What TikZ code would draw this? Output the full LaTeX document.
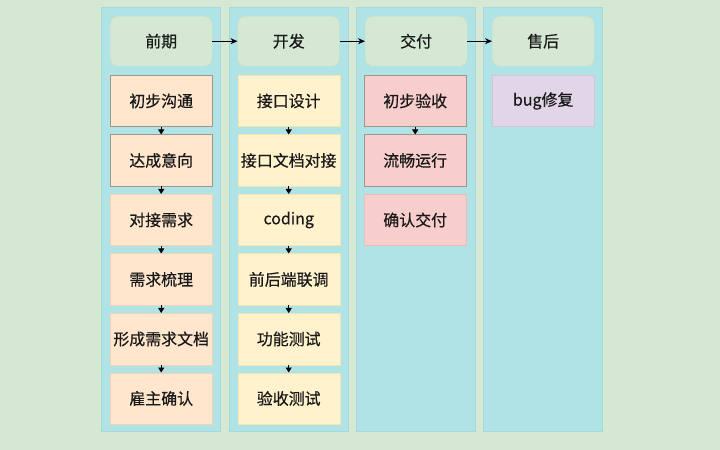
\documentclass[tikz,border=0pt]{standalone}
\usepackage{fontspec}
\setmainfont{Noto Sans CJK SC}[FakeBold=0.5]
\usetikzlibrary{arrows.meta}
\definecolor{bggreen}{HTML}{D5E8D4}
\definecolor{colfill}{HTML}{B0E3E6}
\definecolor{colline}{HTML}{A8D8DB}
\definecolor{hdrfill}{HTML}{D5E8D4}
\definecolor{hdrline}{HTML}{C4DEC3}
\definecolor{orfill}{HTML}{FFE6CC}
\definecolor{orline}{HTML}{F3D3B3}
\definecolor{yefill}{HTML}{FFF2CC}
\definecolor{yeline}{HTML}{F5E3B0}
\definecolor{refill}{HTML}{F8CECC}
\definecolor{reline}{HTML}{EDBDBB}
\definecolor{pufill}{HTML}{E1D5E7}
\definecolor{puline}{HTML}{D3C3DB}
\definecolor{grayline}{HTML}{A0968C}
\begin{document}
\begin{tikzpicture}[x=1bp,y=-1bp,
  every node/.style={font=\fontsize{16}{19}\selectfont, text=black!90},
  lane/.style={draw=colline, fill=colfill, minimum width=119bp, minimum height=424bp, anchor=north west, inner sep=0pt},
  hdr/.style={draw=hdrline, fill=hdrfill, rounded corners=8bp, minimum width=102bp, minimum height=50bp, anchor=north west, inner sep=0pt},
  item/.style={minimum width=102bp, minimum height=51.5bp, anchor=north west, inner sep=0pt},
  oritem/.style={item, fill=orfill, draw=orline},
  yeitem/.style={item, fill=yefill, draw=yeline},
  reitem/.style={item, fill=refill, draw=reline},
  puitem/.style={item, fill=pufill, draw=puline},
  grayb/.style={draw=grayline},
  flow/.style={-{Stealth[length=7bp,width=6bp]}, line width=0.8bp, black},
  step2/.style={-{Triangle[length=5bp,width=6bp]}, line width=0.8bp, black},
]
\fill[bggreen] (0,0) rectangle (720,450);
\useasboundingbox (0,0) rectangle (720,450);

% lanes
\node[lane] (L1) at (101,7) {};
\node[lane] (L2) at (228.5,7) {};
\node[lane] (L3) at (356,7) {};
\node[lane] (L4) at (483,7) {};

% headers
\node[hdr] (H1) at (110,16) {前期};
\node[hdr] (H2) at (237.5,16) {开发};
\node[hdr] (H3) at (365,16) {交付};
\node[hdr] (H4) at (492,16) {售后};

% column 1
\node[oritem, grayb] (A1) at (110,75) {初步沟通};
\node[oritem, grayb] (A2) at (110,134.5) {达成意向};
\node[oritem] (A3) at (110,194) {对接需求};
\node[oritem] (A4) at (110,253.5) {需求梳理};
\node[oritem] (A5) at (110,313) {形成需求文档};
\node[oritem] (A6) at (110,372.5) {雇主确认};

% column 2
\node[yeitem] (B1) at (237.5,75) {接口设计};
\node[yeitem] (B2) at (237.5,134.5) {接口文档对接};
\node[yeitem] (B3) at (237.5,194) {coding};
\node[yeitem] (B4) at (237.5,253.5) {前后端联调};
\node[yeitem] (B5) at (237.5,313) {功能测试};
\node[yeitem] (B6) at (237.5,372.5) {验收测试};

% column 3
\node[reitem, grayb] (C1) at (364,75) {初步验收};
\node[reitem, grayb] (C2) at (364,134.5) {流畅运行};
\node[reitem] (C3) at (364,194) {确认交付};

% column 4
\node[puitem] (D1) at (492,75) {bug修复};

% header flow
\draw[flow] (H1) -- (H2);
\draw[flow] (H2) -- (H3);
\draw[flow] (H3) -- (H4);

% vertical steps
\draw[step2] (A1) -- (A2);
\draw[step2] (A2) -- (A3);
\draw[step2] (A3) -- (A4);
\draw[step2] (A4) -- (A5);
\draw[step2] (A5) -- (A6);
\draw[step2] (B1) -- (B2);
\draw[step2] (B2) -- (B3);
\draw[step2] (B3) -- (B4);
\draw[step2] (B4) -- (B5);
\draw[step2] (B5) -- (B6);
\draw[step2] (C1) -- (C2);
\end{tikzpicture}
\end{document}
